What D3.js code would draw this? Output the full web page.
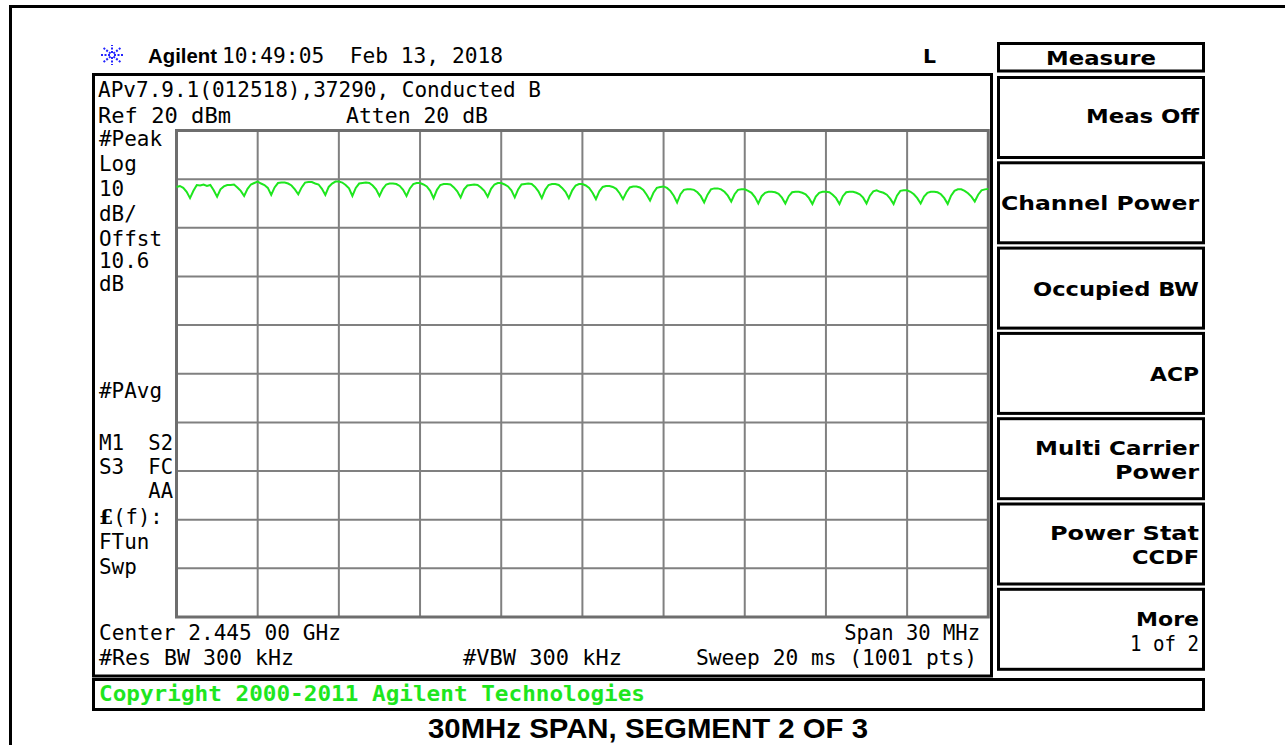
<!DOCTYPE html>
<html><head><meta charset="utf-8">
<script src="https://cdn.jsdelivr.net/npm/d3@7"></script>
<style>body{margin:0;background:#fff}svg{display:block}text{white-space:pre}</style>
</head><body><svg id="c" width="1285" height="745"></svg>
<script>
// ---------------- data ----------------
const startMHz = 2430;          // Center 2.445 GHz, Span 30 MHz
const spanMHz = 30;
const refLevel = 20;            // Ref 20 dBm
const dbPerDiv = 10;
const divisions = 10;
const stepMHz = 0.125;
// trace (dBm), one row per MHz, 8 samples per MHz
const traceDbm = [
  8.4, 8.6, 8.2, 7.4, 6.1, 7.6, 8.8, 8.7,
  8.9, 8.6, 8.8, 7.7, 6.4, 7.9, 8.5, 8.8,
  8.8, 8.9, 8.3, 7.6, 6.55, 8.0, 8.9, 9.2,
  9.5, 9.1, 8.8, 8.2, 6.75, 8.3, 9.2, 9.3,
  9.3, 9.1, 8.7, 7.9, 6.9, 8.3, 9.3, 9.4,
  9.4, 9.1, 8.9, 8.0, 6.75, 8.4, 9.1, 9.5,
  9.5, 9.3, 8.8, 8.1, 6.55, 8.2, 9.1, 9.2,
  9.3, 9.2, 8.7, 7.9, 6.55, 8.0, 8.9, 9.1,
  9.1, 9.0, 8.6, 7.8, 6.55, 8.1, 9.0, 9.2,
  9.2, 8.9, 8.5, 7.6, 6.1, 7.8, 8.8, 9.0,
  9.0, 8.9, 8.3, 7.5, 6.25, 7.9, 8.7, 8.8,
  8.9, 8.8, 8.3, 7.6, 6.4, 8.0, 8.9, 9.2,
  9.2, 8.9, 8.5, 7.7, 6.25, 7.9, 8.9, 9.0,
  9.1, 9.0, 8.4, 7.5, 6.1, 7.8, 8.8, 9.0,
  9.0, 8.8, 8.2, 7.4, 6.1, 7.7, 8.7, 9.0,
  9.0, 8.7, 8.2, 7.2, 5.9, 7.5, 8.4, 8.6,
  8.6, 8.4, 8.0, 7.1, 5.9, 7.3, 8.3, 8.5,
  8.5, 8.3, 7.8, 6.8, 5.6, 7.2, 8.2, 8.4,
  8.5, 8.2, 7.6, 6.6, 5.2, 6.9, 7.8, 7.9,
  7.9, 7.8, 7.3, 6.5, 5.2, 6.8, 7.9, 8.1,
  8.1, 7.9, 7.4, 6.6, 5.4, 6.9, 7.8, 7.9,
  7.9, 7.6, 7.2, 6.3, 5.0, 6.5, 7.2, 7.4,
  7.4, 7.3, 7.0, 6.2, 5.0, 6.5, 7.3, 7.4,
  7.4, 7.2, 6.9, 6.1, 4.9, 6.4, 7.2, 7.4,
  7.4, 7.3, 6.8, 6.1, 4.9, 6.5, 7.3, 7.4,
  7.4, 7.2, 6.9, 6.2, 5.0, 6.6, 7.5, 7.7,
  7.4, 7.2, 6.8, 6.0, 4.9, 6.6, 7.6, 7.7,
  7.7, 7.4, 6.9, 6.1, 5.0, 6.4, 7.2, 7.4,
  7.4, 7.3, 6.9, 6.1, 4.9, 6.6, 7.6, 7.9,
  7.9, 7.6, 7.1, 6.4, 5.4, 6.8, 7.7, 7.9,
  8.0
];
const headerTexts = ["Agilent", "10:49:05  Feb 13, 2018", "L"];
const topLines = ["APv7.9.1(012518),37290, Conducted B", "Ref 20 dBm", "Atten 20 dB"];
const leftLabels = ["#Peak", "Log", "10", "dB/", "Offst", "10.6", "dB", "#PAvg", "M1", "S3", "FTun", "Swp"];
const leftRightLabels = ["S2", "FC", "AA"];
const bottomLines = ["Center 2.445 00 GHz", "Span 30 MHz", "#Res BW 300 kHz", "#VBW 300 kHz", "Sweep 20 ms (1001 pts)"];
const menuTitle = "Measure";
const softkeys = [["Meas Off"], ["Channel Power"], ["Occupied BW"], ["ACP"], ["Multi Carrier", "Power"], ["Power Stat", "CCDF"], ["More", "1 of 2"]];
const copyrightText = "Copyright 2000-2011 Agilent Technologies";
const captionText = "30MHz SPAN, SEGMENT 2 OF 3";

// ---------------- layout ----------------
const svg = d3.select("#c");
const MONO = "'DejaVu Sans Mono', monospace";
const SANSB = "'DejaVu Sans', sans-serif";
const grid = {x0: 176.5, x1: 988.3, y0: 130.5, y1: 617};
const x = d3.scaleLinear().domain([startMHz, startMHz + spanMHz]).range([grid.x0, grid.x1]);
const y = d3.scaleLinear().domain([refLevel - dbPerDiv * divisions, refLevel]).range([grid.y1, grid.y0]);

function txt(s, px, py, opt = {}) {
  const t = svg.append("text").attr("x", px).attr("y", py)
    .attr("xml:space", "preserve")
    .attr("font-family", opt.font || MONO)
    .attr("font-size", opt.size || 20.5)
    .attr("font-weight", opt.weight || "normal")
    .attr("fill", opt.fill || "#000")
    .attr("text-anchor", opt.anchor || "start")
    .text(s);
  if (opt.len) t.attr("textLength", opt.len).attr("lengthAdjust", "spacingAndGlyphs");
  return t;
}

// outer frame
svg.append("path").attr("d", "M10.5,745 V6.5 H1285").attr("fill", "none").attr("stroke", "#000").attr("stroke-width", 3);

// header
const star = svg.append("g").attr("transform", "translate(112,55)");
for (let a = 0; a < 8; a++) {
  const ang = a * Math.PI / 4;
  star.append("line").attr("x1", Math.cos(ang) * 2).attr("y1", Math.sin(ang) * 2)
    .attr("x2", Math.cos(ang) * 12).attr("y2", Math.sin(ang) * 10)
    .attr("stroke", "#2424ff").attr("stroke-width", 2).attr("stroke-dasharray", "2,1.5");
}
txt(headerTexts[0], 148, 63, {font: "'Liberation Sans', Arial, sans-serif", weight: "bold", size: 20, len: 69});
txt(headerTexts[1], 222, 63, {len: 281});
txt(headerTexts[2], 923, 63, {font: SANSB, weight: "bold", size: 20, len: 13});

// main screen box
svg.append("rect").attr("x", 93.5).attr("y", 74.5).attr("width", 898).attr("height", 601.5)
  .attr("fill", "none").attr("stroke", "#000").attr("stroke-width", 3);

txt(topLines[0], 98, 97, {len: 443});
txt(topLines[1], 98, 123, {len: 133});
txt(topLines[2], 346, 123, {len: 142});

// left labels
const leftY = [146, 171, 196, 221, 246, 268, 291, 398, 450, 474, 549, 574];
leftLabels.forEach((s, i) => txt(s, 99, leftY[i], {len: s.length * 12.6}));
const rightY = [450, 474, 498];
leftRightLabels.forEach((s, i) => txt(s, 173, rightY[i], {anchor: "end"}));
const lf = svg.append("text").attr("x", 99).attr("y", 524).attr("font-family", MONO).attr("font-size", 20.5);
lf.append("tspan").attr("font-weight", "bold").attr("font-family", "'DejaVu Serif', serif").text("£");
lf.append("tspan").text("(f):");

// grid
const xTicks = d3.range(0, divisions + 1).map(i => startMHz + i * spanMHz / divisions);
const yTicks = d3.range(0, divisions + 1).map(i => refLevel - i * dbPerDiv);
const g = svg.append("g");
g.selectAll("line.v").data(xTicks.slice(1, -1)).join("line")
  .attr("x1", d => x(d)).attr("x2", d => x(d)).attr("y1", grid.y0).attr("y2", grid.y1)
  .attr("stroke", "#808080").attr("stroke-width", 2);
g.selectAll("line.h").data(yTicks.slice(1, -1)).join("line")
  .attr("y1", d => y(d)).attr("y2", d => y(d)).attr("x1", grid.x0).attr("x2", grid.x1)
  .attr("stroke", "#808080").attr("stroke-width", 2);
g.append("rect").attr("x", grid.x0).attr("y", grid.y0).attr("width", grid.x1 - grid.x0).attr("height", grid.y1 - grid.y0)
  .attr("fill", "none").attr("stroke", "#6e6e6e").attr("stroke-width", 3);

// trace
const pts = traceDbm.map((v, i) => [startMHz + i * stepMHz, v]);
svg.append("path").datum(pts)
  .attr("d", d3.line().x(d => x(d[0])).y(d => y(d[1])))
  .attr("fill", "none").attr("stroke", "#1ee61e").attr("stroke-width", 2);

// bottom annotation
txt(bottomLines[0], 99, 640, {len: 242});
txt(bottomLines[1], 980, 640, {anchor: "end"});
txt(bottomLines[2], 99, 665, {len: 195});
txt(bottomLines[3], 463, 665, {len: 159});
txt(bottomLines[4], 696, 665, {len: 281});

// copyright bar
svg.append("rect").attr("x", 93.5).attr("y", 679.5).attr("width", 1110).attr("height", 30)
  .attr("fill", "none").attr("stroke", "#000").attr("stroke-width", 3);
txt(copyrightText, 99, 701, {weight: "bold", fill: "#1ee61e", len: 546});

// softkey menu
svg.append("rect").attr("x", 998.5).attr("y", 43.5).attr("width", 205).attr("height", 27.5)
  .attr("fill", "none").attr("stroke", "#000").attr("stroke-width", 3);
txt(menuTitle, 1101, 65, {font: SANSB, weight: "bold", size: 20, anchor: "middle", len: 110});
const keyTop = [77.5, 162.8, 248.1, 333.4, 418.7, 504, 589.3];
const keyH = 80;
const keyBase = [[123], [210], [296], [381], [455, 479], [540, 564], [626, 651]];
const keyW = [[113], [198], [166], [49], [164, 84], [149, 67], [63, 69]];
softkeys.forEach((lines, i) => {
  svg.append("rect").attr("x", 998.5).attr("y", keyTop[i]).attr("width", 205).attr("height", keyH)
    .attr("fill", "none").attr("stroke", "#000").attr("stroke-width", 3);
  lines.forEach((s, j) => {
    const plain = (i === 6 && j === 1);
    txt(s, 1199, keyBase[i][j], plain ? {anchor: "end", len: keyW[i][j]} :
      {font: SANSB, weight: "bold", size: 20, anchor: "end", len: keyW[i][j]});
  });
});

// caption
txt(captionText, 648, 738, {font: "'Liberation Sans', Arial, sans-serif", weight: "bold", size: 28, anchor: "middle", len: 440});
</script></body></html>
